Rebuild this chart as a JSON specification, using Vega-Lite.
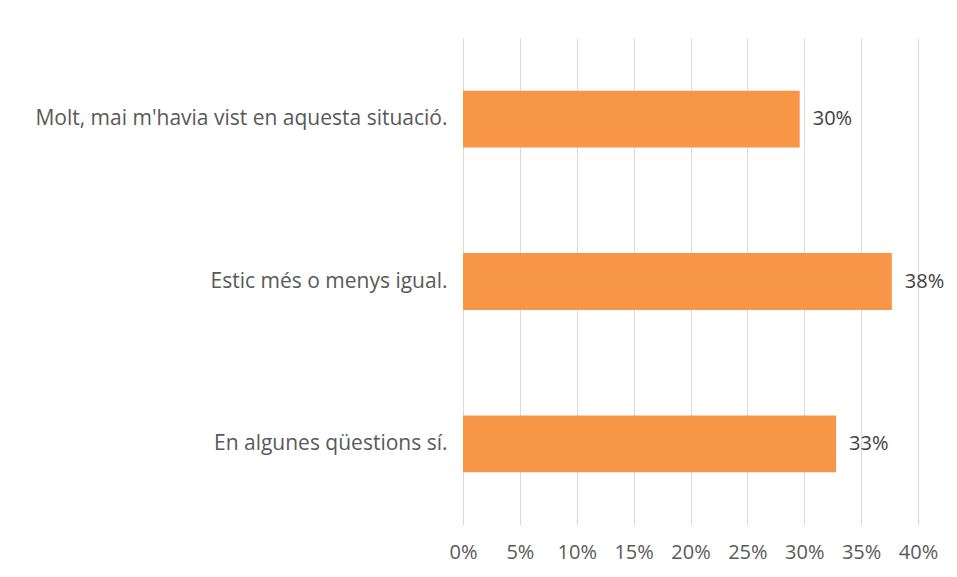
{
  "$schema": "https://vega.github.io/schema/vega-lite/v6.json",
  "autosize": {"type": "none"},
  "width": 455,
  "height": 487,
  "padding": {"left": 463, "top": 38, "right": 39, "bottom": 52},
  "background": "white",
  "config": {
    "view": {"stroke": null},
    "font": "Open Sans",
    "axis": {"labelFont": "Open Sans", "labelColor": "#595959", "labelFontSize": 20}
  },
  "data": {
    "values": [
      {"cat": "Molt, mai m'havia vist en aquesta situació.", "value": 0.296},
      {"cat": "Estic més o menys igual.", "value": 0.377},
      {"cat": "En algunes qüestions sí.", "value": 0.328}
    ]
  },
  "encoding": {
    "y": {
      "field": "cat", "type": "nominal", "sort": null,
      "scale": {"paddingInner": 0.65, "paddingOuter": 0.325},
      "axis": {"title": null, "domain": false, "ticks": false, "labelPadding": 16, "labelLimit": 500, "labelFontSize": 21}
    },
    "x": {
      "field": "value", "type": "quantitative",
      "scale": {"domain": [0, 0.4], "nice": false},
      "axis": {"title": null, "format": ".0%", "values": [0, 0.05, 0.1, 0.15, 0.2, 0.25, 0.3, 0.35, 0.4], "domain": false, "ticks": false, "labelFlush": false, "labelPadding": 17, "grid": true, "gridColor": "#D9D9D9", "gridWidth": 1}
    }
  },
  "layer": [
    {"mark": {"type": "bar", "color": "#F79646"}},
    {"mark": {"type": "text", "align": "left", "dx": 13, "fontSize": 20, "color": "#404040", "font": "Open Sans"},
     "encoding": {"text": {"field": "value", "type": "quantitative", "format": ".0%"}}}
  ]
}
